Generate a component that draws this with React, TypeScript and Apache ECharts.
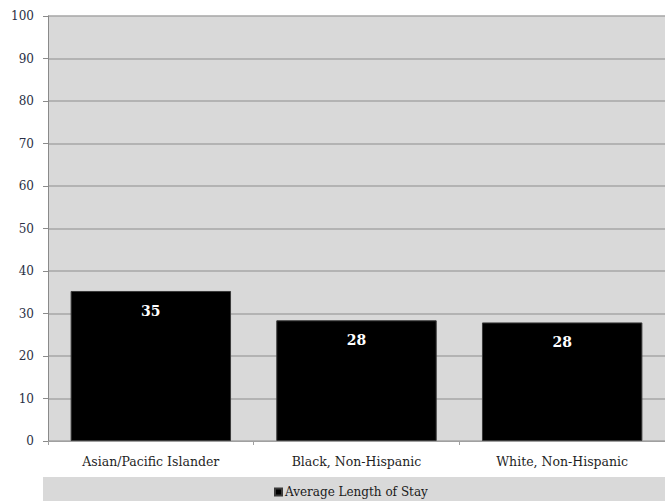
import React, { useEffect, useRef } from "react";
import * as echarts from "echarts";

const categories = ["Asian/Pacific Islander", "Black, Non-Hispanic", "White, Non-Hispanic"];
const stayValues = [35.3, 28.4, 27.9];
const seriesName = "Average Length of Stay";

const SERIF = "'DejaVu Serif', 'Liberation Serif', serif";

export default function App() {
  const ref = useRef<HTMLDivElement>(null);

  useEffect(() => {
    if (!ref.current) return;
    const chart = echarts.init(ref.current, undefined, { renderer: "svg" });
    chart.setOption({
      animation: false,
      backgroundColor: "#ffffff",
      grid: {
        left: 48,
        top: 16,
        right: -1,
        bottom: 60,
        show: true,
        backgroundColor: "#d9d9d9",
        borderWidth: 0,
      },
      graphic: [
        {
          type: "rect",
          z: -1,
          shape: { x: 43, y: 477, width: 630, height: 30 },
          style: { fill: "#d9d9d9" },
        },
      ],
      legend: {
        data: [seriesName],
        left: 274,
        top: 485,
        padding: 0,
        itemWidth: 7,
        itemHeight: 7,
        itemGap: 4,
        icon: "rect",
        textStyle: {
          fontFamily: SERIF,
          fontSize: 12,
          lineHeight: 14,
          color: "#1a1a1a",
          padding: [0, 0, 0, -2],
        },
      },
      xAxis: {
        type: "category",
        data: categories,
        axisLine: { show: true, lineStyle: { color: "#a0a0a0", width: 1 } },
        axisTick: { show: true, length: 4, lineStyle: { color: "#a0a0a0" } },
        axisLabel: { fontFamily: SERIF, fontSize: 12.5, color: "#1f1f1f", margin: 14 },
      },
      yAxis: {
        type: "value",
        min: 0,
        max: 100,
        interval: 10,
        axisLine: { show: true, lineStyle: { color: "#8a8a8a", width: 1 } },
        axisTick: { show: true, length: 5, lineStyle: { color: "#8a8a8a" } },
        axisLabel: { fontFamily: SERIF, fontSize: 12, color: "#2a2f45", margin: 14 },
        splitLine: { show: true, lineStyle: { color: "#a6a6a6", width: 1.5 } },
      },
      series: [
        {
          name: seriesName,
          type: "bar",
          data: stayValues,
          barCategoryGap: "22%",
          itemStyle: { color: "#000000", borderColor: "#3a3a3a", borderWidth: 1 },
          label: {
            show: true,
            position: "insideTop",
            distance: 13,
            formatter: (p: any) => String(Math.round(p.value)),
            fontFamily: SERIF,
            fontWeight: "bold",
            fontSize: 14,
            color: "#ffffff",
          },
        },
      ],
    });
    return () => chart.dispose();
  }, []);

  return (
    <div
      ref={ref}
      style={{ position: "absolute", left: 0, top: 0, width: 665, height: 501 }}
    />
  );
}
